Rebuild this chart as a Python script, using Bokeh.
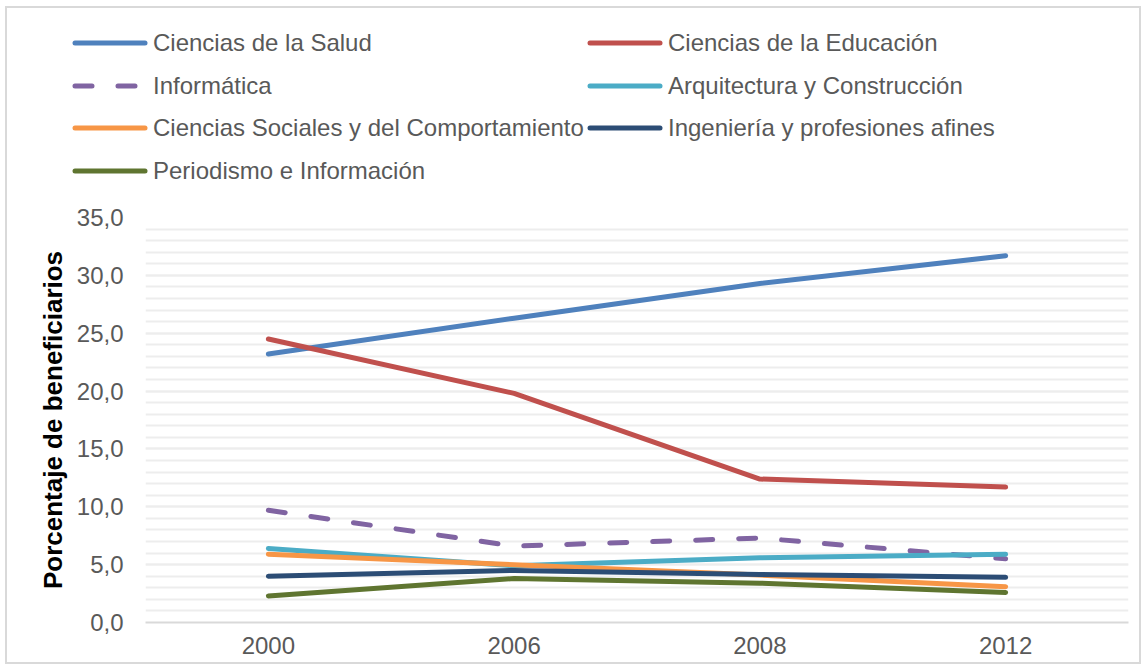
from bokeh.plotting import figure
from bokeh.layouts import column
from bokeh.models import FixedTicker, Range1d, FactorRange, Div
from bokeh.embed import file_html
from bokeh.resources import INLINE

years = ["2000", "2006", "2008", "2012"]
salud = [23.2, 26.3, 29.3, 31.7]
educacion = [24.5, 19.8, 12.4, 11.7]
informatica = [9.7, 6.6, 7.3, 5.5]
arquitectura = [6.4, 4.9, 5.6, 5.9]
sociales = [5.9, 5.0, 4.1, 3.1]
ingenieria = [4.0, 4.5, 4.15, 3.9]
periodismo = [2.3, 3.8, 3.4, 2.6]

y_ticks = [0, 5, 10, 15, 20, 25, 30, 35]
y_minor = list(range(0, 36))

series = [
    ("Ciencias de la Salud", salud, "#4F81BD", "solid"),
    ("Ciencias de la Educación", educacion, "#C0504D", "solid"),
    ("Informática", informatica, "#8064A2", "17 26"),
    ("Arquitectura y Construcción", arquitectura, "#4BACC6", "solid"),
    ("Ciencias Sociales y del Comportamiento", sociales, "#F79646", "solid"),
    ("Ingeniería y profesiones afines", ingenieria, "#2C4D75", "solid"),
    ("Periodismo e Información", periodismo, "#5F7530", "solid"),
]

FONT = "Liberation Sans"
W = 1132
LEG_H = 196

# ---------------- legend (two columns, row-major order) ----------------
col_x = [66, 581]          # start of legend line in each column
row_y = [35, 78, 120, 163]  # centre of each row
line_len = 74
parts = []
for i, (name, vals, col, dash) in enumerate(series):
    cx = col_x[i % 2]
    cy = row_y[i // 2]
    da = "" if dash == "solid" else f' stroke-dasharray="{dash}"'
    parts.append(f'<line x1="{cx + 2}" y1="{cy}" x2="{cx + line_len - 2}" y2="{cy}" stroke="{col}" '
                 f'stroke-width="5" stroke-linecap="round"{da}/>')
    parts.append(f'<text x="{cx + line_len + 6}" y="{cy}" dy="0.35em" font-family="{FONT}" '
                 f'font-size="24px" fill="#595959">{name}</text>')
svg = (f'<svg xmlns="http://www.w3.org/2000/svg" width="{W}" height="{LEG_H}" '
       f'style="display:block">' + "".join(parts) + '</svg>')
legend_div = Div(text=svg, width=W, height=LEG_H, styles={"margin": "0", "padding": "0"})

# ---------------- main chart ----------------
p = figure(width=W, height=458, x_range=FactorRange(*years), y_range=Range1d(0, 35),
           output_backend="svg", toolbar_location=None,
           min_border_left=138, min_border_right=11, min_border_top=13, min_border_bottom=40)
p.outline_line_color = None
p.background_fill_color = "white"
p.border_fill_color = "white"

for name, vals, col, dash in series:
    p.line(years, vals, line_color=col, line_width=5, line_dash=dash, line_cap="round",
           line_join="round")

p.yaxis.ticker = FixedTicker(ticks=y_ticks, minor_ticks=y_minor)
p.ygrid.grid_line_color = "#EDEDED"
p.ygrid.grid_line_width = 2
p.ygrid.minor_grid_line_color = "#EDEDED"
p.ygrid.minor_grid_line_width = 2
p.xgrid.grid_line_color = None

p.yaxis.major_label_overrides = {t: f"{t:.1f}".replace(".", ",") for t in y_ticks}
p.yaxis.axis_line_color = None
p.yaxis.major_tick_line_color = None
p.yaxis.minor_tick_line_color = None
p.yaxis.major_label_text_font = FONT
p.yaxis.major_label_text_font_size = "24px"
p.yaxis.major_label_text_color = "#595959"
p.yaxis.major_label_standoff = 16
p.yaxis.axis_label = "Porcentaje de beneficiarios"
p.yaxis.axis_label_text_font = FONT
p.yaxis.axis_label_text_font_style = "bold"
p.yaxis.axis_label_text_font_size = "26px"
p.yaxis.axis_label_text_color = "#000000"
p.yaxis.axis_label_standoff = 6

p.xaxis.axis_line_color = "#D9D9D9"
p.xaxis.axis_line_width = 2
p.xaxis.major_tick_line_color = None
p.xaxis.minor_tick_line_color = None
p.xaxis.major_label_text_font = FONT
p.xaxis.major_label_text_font_size = "24px"
p.xaxis.major_label_text_color = "#595959"
p.xaxis.major_label_standoff = 8

layout = column(legend_div, p, spacing=0)
layout.styles = {"border": "2px solid #D9D9D9", "margin-left": "5px", "margin-top": "6px",
                 "background-color": "white"}

open("out.html", "w").write(file_html(layout, INLINE))
